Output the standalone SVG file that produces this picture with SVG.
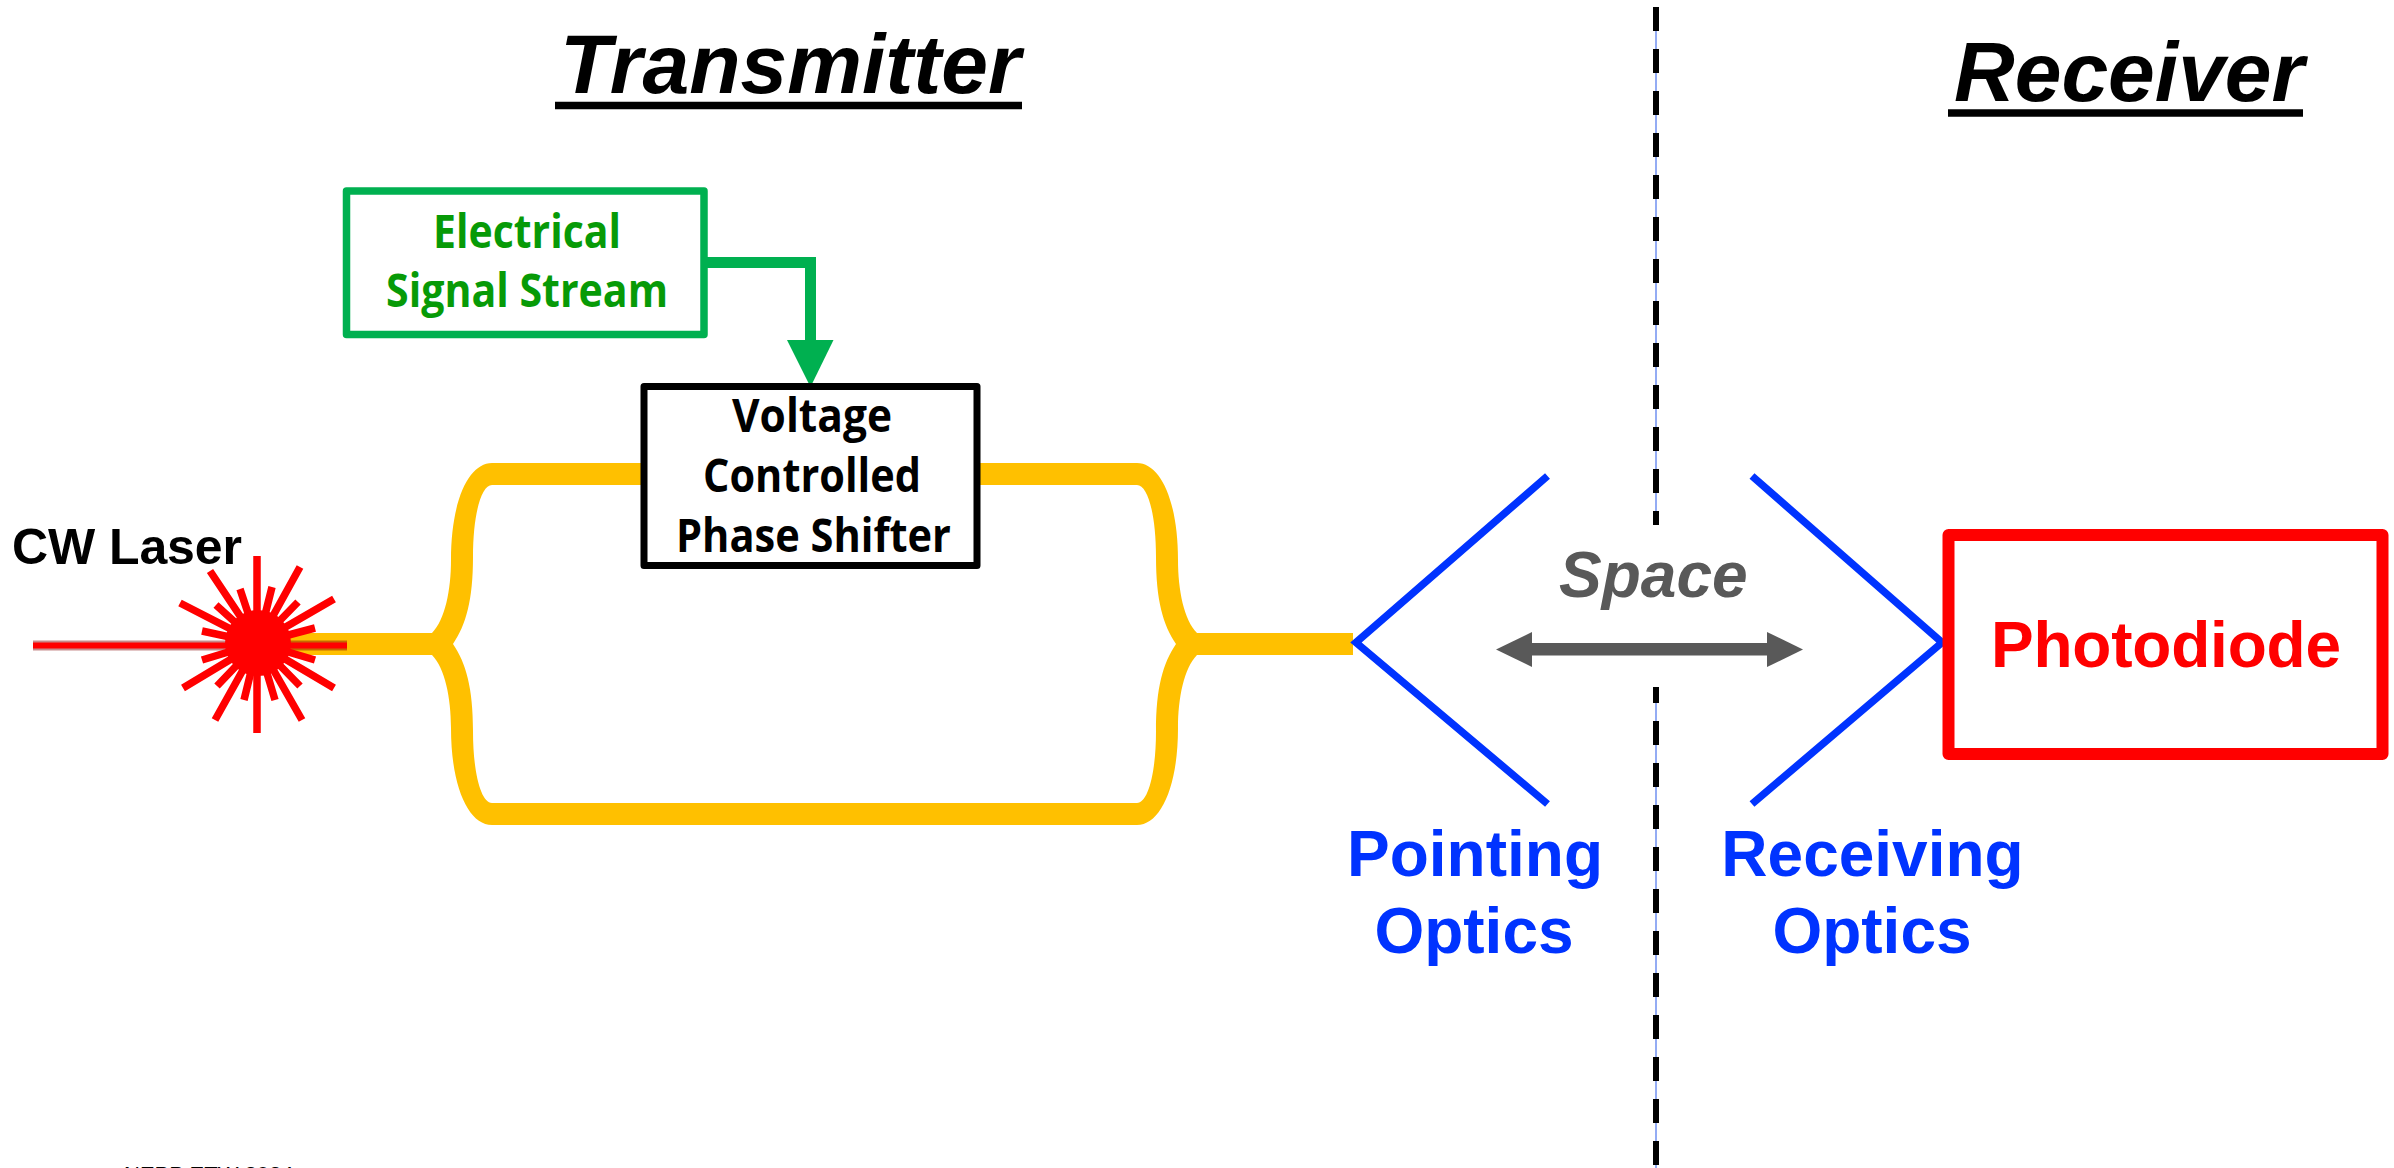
<svg xmlns="http://www.w3.org/2000/svg" xmlns:xlink="http://www.w3.org/1999/xlink" width="2394" height="1168" viewBox="0 0 2394 1168">
<style>
text{font-family:"Liberation Sans",Arial,sans-serif;font-weight:700}
.big{font-size:64px}
.title{font-size:84px;font-style:italic;fill:#000}
.cal{font-family:"Open Sans","Noto Sans",sans-serif;font-size:46px}
.blue{fill:#0033ff;text-anchor:middle}
.ul{stroke:#000;stroke-width:7.5}
.mirror{fill:none;stroke:#0033ff;stroke-width:7.5;stroke-linejoin:miter}
.ray{stroke:#ff0000;stroke-width:7.5;fill:none}
.sep{stroke:#000;stroke-width:6;stroke-dasharray:24 18}
.sepb{stroke:#7090f0;stroke-width:1.5}
</style>
<defs>
<path id="half" fill="#ffc000" d="M970 463H1137C1160 463 1178 500 1178 560C1178 590 1184 620 1197 633H1353V655H1197C1184 668 1178 698 1178 728C1178 788 1160 825 1137 825H814V803H1137C1148 803 1156 773 1156 731C1156 688 1163 663 1176 644C1163 625 1156 600 1156 557C1156 515 1148 485 1137 485H970Z"/>
</defs>
<rect width="2394" height="1168" fill="#fff"/>

<g id="connectors">
<g id="waveguide">
<use href="#half"/>
<use href="#half" transform="matrix(-1 0 0 1 1629 0)"/>
</g>
<g id="signal-arrow">
<path d="M707 262.500H810.500V342" fill="none" stroke="#00b050" stroke-width="11"/>
<polygon points="787,340 833.500,340 810.500,387" fill="#00b050"/>
</g>
<g id="space-arrow" fill="#595959">
<rect x="1530" y="643" width="240" height="12.500"/>
<polygon points="1496,649.500 1532,632 1532,667"/>
<polygon points="1803,649.500 1767,632 1767,667"/>
</g>
</g>

<g id="separator">
<line class="sepb" x1="1656" y1="7" x2="1656" y2="525"/>
<line class="sepb" x1="1656" y1="687" x2="1656" y2="1168"/>
<line class="sep" x1="1656" y1="7" x2="1656" y2="525"/>
<line class="sep" x1="1656" y1="687" x2="1656" y2="1168" stroke-dashoffset="8"/>
</g>

<g id="transmitter-title">
<text class="title" x="560" y="93">Transmitter</text>
<line class="ul" x1="555" y1="105.500" x2="1022" y2="105.500"/>
</g>
<g id="receiver-title">
<text class="title" x="1954" y="101">Receiver</text>
<line class="ul" x1="1948" y1="113" x2="2303" y2="113"/>
</g>

<g id="signal-stream">
<rect x="346.500" y="191" width="357.500" height="143.500" fill="#fff" stroke="#00b050" stroke-width="7.500" stroke-linejoin="round"/>
<text class="cal" fill="#079a07" x="433" y="248" textLength="188" lengthAdjust="spacingAndGlyphs">Electrical</text>
<text class="cal" fill="#079a07" x="386" y="307" textLength="282" lengthAdjust="spacingAndGlyphs">Signal Stream</text>
</g>

<g id="phase-shifter">
<rect x="644" y="386.500" width="333" height="179" fill="#fff" stroke="#000" stroke-width="7" stroke-linejoin="round"/>
<text class="cal" fill="#000" x="732" y="432" textLength="160" lengthAdjust="spacingAndGlyphs">Voltage</text>
<text class="cal" fill="#000" x="703" y="492" textLength="218" lengthAdjust="spacingAndGlyphs">Controlled</text>
<text class="cal" fill="#000" x="676" y="552" textLength="275" lengthAdjust="spacingAndGlyphs">Phase Shifter</text>
</g>

<g id="cw-laser">
<line x1="33" y1="645.500" x2="347" y2="645.500" stroke="#800000" stroke-opacity=".45" stroke-width="10"/>
<line x1="33" y1="645.500" x2="347" y2="645.500" stroke="#ff0000" stroke-width="6"/>
<circle cx="258" cy="643" r="33" fill="#ff0000"/>
<g class="ray">
<path d="M257 643V556M257 643V733"/>
<path d="M258 643L210 571M258 643L300 567M258 643L334 599M258 643L180 603M258 643L334 688M258 643L183 688M258 643L215 720M258 643L302 720"/>
<path d="M258 643L240 589M258 643L272 587M258 643L298 602M258 643L216 605M258 643L315 628M258 643L202 631M258 643L315 660M258 643L202 660M258 643L300 686M258 643L217 686M258 643L275 700M258 643L244 700"/>
</g>
<text x="12" y="564" font-size="50" fill="#000" textLength="230">CW Laser</text>
</g>

<g id="pointing-optics">
<path class="mirror" d="M1547.500 476L1356 642.500L1547.500 804"/>
<text class="big blue" x="1475" y="876">Pointing</text>
<text class="big blue" x="1474" y="953">Optics</text>
</g>

<g id="receiving-optics">
<path class="mirror" d="M1752 476L1942 642.500L1752 804"/>
<text class="big blue" x="1872.500" y="876">Receiving</text>
<text class="big blue" x="1872" y="953">Optics</text>
</g>

<g id="space-label">
<text class="big" x="1559" y="597" fill="#595959" font-style="italic">Space</text>
</g>

<g id="photodiode">
<rect x="1948.500" y="535" width="434" height="219" fill="#fff" stroke="#ff0000" stroke-width="12" stroke-linejoin="round"/>
<text class="big" x="1991" y="667" fill="#ff0000" textLength="350">Photodiode</text>
</g>

<g id="footer">
<text x="124" y="1182" font-size="22" fill="#000" style="font-weight:400">NEPP ETW 2024</text>
</g>
</svg>
